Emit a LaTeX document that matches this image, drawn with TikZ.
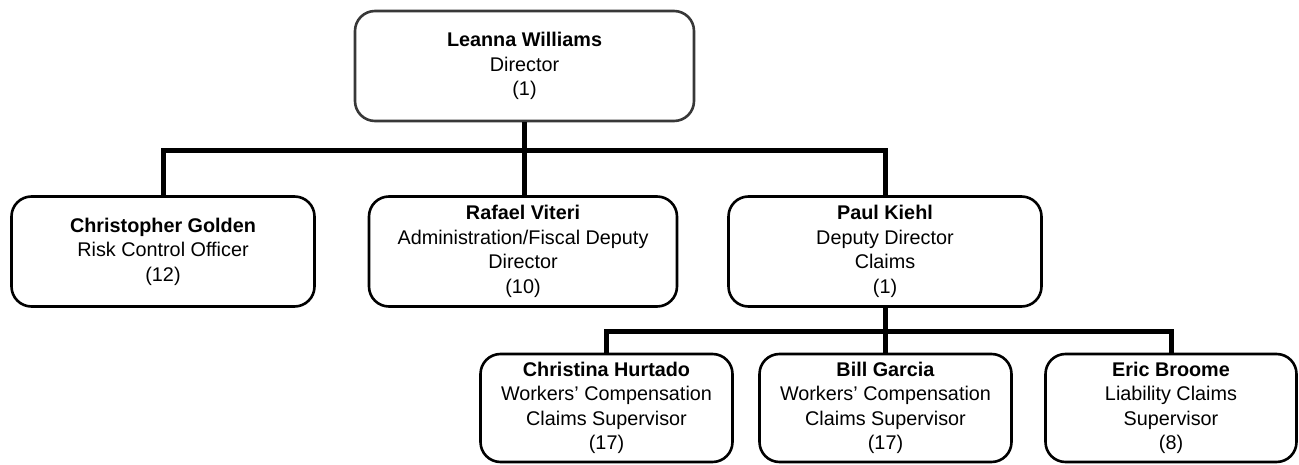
\documentclass[tikz,border=0pt]{standalone}
\usepackage{fontspec}
\setmainfont{Liberation Sans}
\begin{document}
\begin{tikzpicture}[x=1pt,y=-1pt,
  person/.style={draw=black, line width=2.6pt, rounded corners=20pt, fill=white,
    inner sep=0pt, align=center, font=\fontsize{19.8}{24.5}\selectfont},
  link/.style={draw=black, line width=5pt, line join=miter}]
\useasboundingbox (0,0) rectangle (1299,465);

% director
\node[person, draw=black!78, minimum width=339pt, minimum height=110pt] (lw) at (524.5,66)
  {\textbf{Leanna Williams}\\Director\\(1)};

% second level
\node[person, minimum width=303pt, minimum height=110pt] (cg) at (163,251.5)
  {\textbf{Christopher Golden}\\Risk Control Officer\\(12)};
\node[person, minimum width=308pt, minimum height=110pt] (rv) at (523,251.5)
  {\textbf{Rafael Viteri}\\Administration/Fiscal Deputy\\Director\\(10)};
\node[person, minimum width=313pt, minimum height=110pt] (pk) at (885,251.5)
  {\textbf{Paul Kiehl}\\Deputy Director\\Claims\\(1)};

% third level
\node[person, minimum width=252pt, minimum height=108pt] (ch) at (606.5,408)
  {\textbf{Christina Hurtado}\\Workers’ Compensation\\Claims Supervisor\\(17)};
\node[person, minimum width=252pt, minimum height=108pt] (bg) at (885.5,408)
  {\textbf{Bill Garcia}\\Workers’ Compensation\\Claims Supervisor\\(17)};
\node[person, minimum width=251pt, minimum height=108pt] (eb) at (1171,408)
  {\textbf{Eric Broome}\\Liability Claims\\Supervisor\\(8)};

% reporting lines
\coordinate (j1) at (524.5,151);
\coordinate (j2) at (885,331);
\draw[link] (lw.south) -- (j1) -- (j1 |- rv.north);
\draw[link] (cg.north) |- (j1) -| (pk.north);
\draw[link] (pk.south) -- (j2) -- (j2 |- bg.north);
\draw[link] (ch.north) |- (j2) -| (eb.north);
\end{tikzpicture}
\end{document}
